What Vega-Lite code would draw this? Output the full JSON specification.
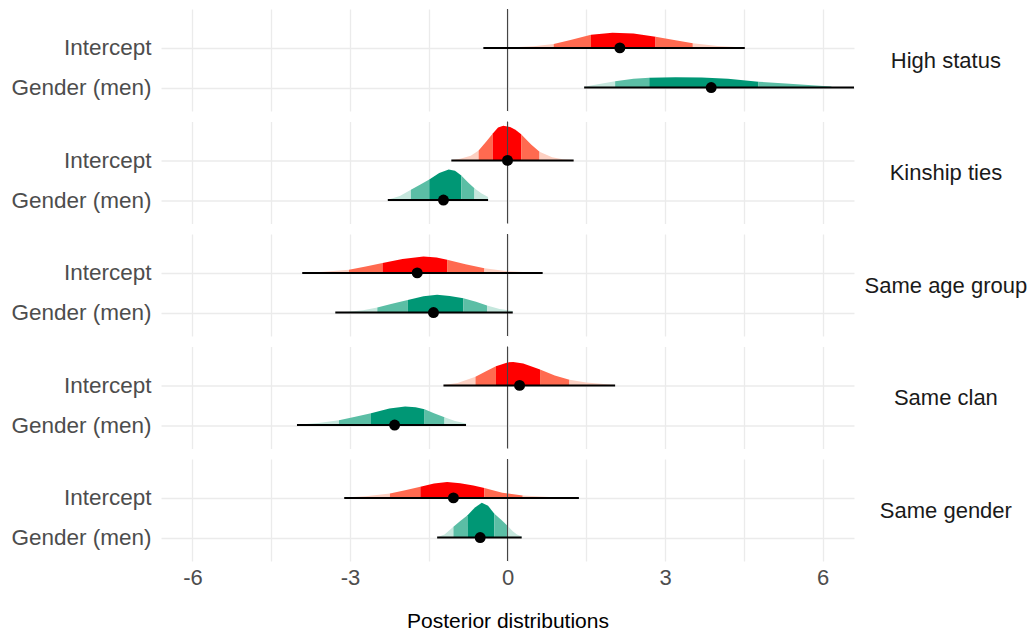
{
  "$schema": "https://vega.github.io/schema/vega-lite/v6.json",
  "background": "white",
  "padding": {"left": 5, "top": 8, "right": 0, "bottom": 0},
  "data": {"values": [
    {"p":"High status","k":"I1","g":1,"b":2,"x":-0.46,"y":2.0},
    {"p":"High status","k":"I1","g":1,"b":2,"x":0.0,"y":2.01},
    {"p":"High status","k":"I1","g":1,"b":2,"x":0.5,"y":2.04},
    {"p":"High status","k":"I1","g":1,"b":2,"x":0.88,"y":2.10},
    {"p":"High status","k":"I2","g":2,"b":2,"x":0.88,"y":2.10},
    {"p":"High status","k":"I2","g":2,"b":2,"x":1.2,"y":2.20},
    {"p":"High status","k":"I2","g":2,"b":2,"x":1.59,"y":2.33},
    {"p":"High status","k":"I3","g":3,"b":2,"x":1.59,"y":2.33},
    {"p":"High status","k":"I3","g":3,"b":2,"x":2.0,"y":2.38},
    {"p":"High status","k":"I3","g":3,"b":2,"x":2.4,"y":2.36},
    {"p":"High status","k":"I3","g":3,"b":2,"x":2.82,"y":2.28},
    {"p":"High status","k":"I2","g":4,"b":2,"x":2.82,"y":2.28},
    {"p":"High status","k":"I2","g":4,"b":2,"x":3.2,"y":2.19},
    {"p":"High status","k":"I2","g":4,"b":2,"x":3.53,"y":2.12},
    {"p":"High status","k":"I1","g":5,"b":2,"x":3.53,"y":2.12},
    {"p":"High status","k":"I1","g":5,"b":2,"x":4.0,"y":2.05},
    {"p":"High status","k":"I1","g":5,"b":2,"x":4.52,"y":2.01},

    {"p":"High status","k":"G1","g":1,"b":1,"x":1.46,"y":1.02},
    {"p":"High status","k":"G1","g":1,"b":1,"x":1.75,"y":1.09},
    {"p":"High status","k":"G1","g":1,"b":1,"x":2.05,"y":1.16},
    {"p":"High status","k":"G2","g":2,"b":1,"x":2.05,"y":1.16},
    {"p":"High status","k":"G2","g":2,"b":1,"x":2.4,"y":1.22},
    {"p":"High status","k":"G2","g":2,"b":1,"x":2.7,"y":1.25},
    {"p":"High status","k":"G3","g":3,"b":1,"x":2.7,"y":1.25},
    {"p":"High status","k":"G3","g":3,"b":1,"x":3.2,"y":1.26},
    {"p":"High status","k":"G3","g":3,"b":1,"x":3.7,"y":1.255},
    {"p":"High status","k":"G3","g":3,"b":1,"x":4.2,"y":1.22},
    {"p":"High status","k":"G3","g":3,"b":1,"x":4.78,"y":1.15},
    {"p":"High status","k":"G2","g":4,"b":1,"x":4.78,"y":1.15},
    {"p":"High status","k":"G2","g":4,"b":1,"x":5.3,"y":1.10},
    {"p":"High status","k":"G2","g":4,"b":1,"x":5.8,"y":1.06},
    {"p":"High status","k":"G2","g":4,"b":1,"x":6.17,"y":1.03},

    {"p":"Kinship ties","k":"I1","g":1,"b":2,"x":-1.07,"y":2.01},
    {"p":"Kinship ties","k":"I1","g":1,"b":2,"x":-0.9,"y":2.04},
    {"p":"Kinship ties","k":"I1","g":1,"b":2,"x":-0.7,"y":2.12},
    {"p":"Kinship ties","k":"I1","g":1,"b":2,"x":-0.55,"y":2.25},
    {"p":"Kinship ties","k":"I2","g":2,"b":2,"x":-0.55,"y":2.25},
    {"p":"Kinship ties","k":"I2","g":2,"b":2,"x":-0.4,"y":2.48},
    {"p":"Kinship ties","k":"I2","g":2,"b":2,"x":-0.28,"y":2.68},
    {"p":"Kinship ties","k":"I3","g":3,"b":2,"x":-0.28,"y":2.68},
    {"p":"Kinship ties","k":"I3","g":3,"b":2,"x":-0.18,"y":2.83},
    {"p":"Kinship ties","k":"I3","g":3,"b":2,"x":-0.08,"y":2.87},
    {"p":"Kinship ties","k":"I3","g":3,"b":2,"x":0.05,"y":2.84},
    {"p":"Kinship ties","k":"I3","g":3,"b":2,"x":0.15,"y":2.77},
    {"p":"Kinship ties","k":"I3","g":3,"b":2,"x":0.26,"y":2.66},
    {"p":"Kinship ties","k":"I2","g":4,"b":2,"x":0.26,"y":2.66},
    {"p":"Kinship ties","k":"I2","g":4,"b":2,"x":0.45,"y":2.40},
    {"p":"Kinship ties","k":"I2","g":4,"b":2,"x":0.61,"y":2.22},
    {"p":"Kinship ties","k":"I1","g":5,"b":2,"x":0.61,"y":2.22},
    {"p":"Kinship ties","k":"I1","g":5,"b":2,"x":0.85,"y":2.08},
    {"p":"Kinship ties","k":"I1","g":5,"b":2,"x":1.05,"y":2.03},
    {"p":"Kinship ties","k":"I1","g":5,"b":2,"x":1.26,"y":2.01},

    {"p":"Kinship ties","k":"G1","g":1,"b":1,"x":-2.28,"y":1.01},
    {"p":"Kinship ties","k":"G1","g":1,"b":1,"x":-2.05,"y":1.10},
    {"p":"Kinship ties","k":"G1","g":1,"b":1,"x":-1.84,"y":1.26},
    {"p":"Kinship ties","k":"G2","g":2,"b":1,"x":-1.84,"y":1.26},
    {"p":"Kinship ties","k":"G2","g":2,"b":1,"x":-1.65,"y":1.40},
    {"p":"Kinship ties","k":"G2","g":2,"b":1,"x":-1.49,"y":1.52},
    {"p":"Kinship ties","k":"G3","g":3,"b":1,"x":-1.49,"y":1.52},
    {"p":"Kinship ties","k":"G3","g":3,"b":1,"x":-1.3,"y":1.68},
    {"p":"Kinship ties","k":"G3","g":3,"b":1,"x":-1.12,"y":1.77},
    {"p":"Kinship ties","k":"G3","g":3,"b":1,"x":-1.0,"y":1.74},
    {"p":"Kinship ties","k":"G3","g":3,"b":1,"x":-0.88,"y":1.62},
    {"p":"Kinship ties","k":"G2","g":4,"b":1,"x":-0.88,"y":1.62},
    {"p":"Kinship ties","k":"G2","g":4,"b":1,"x":-0.75,"y":1.44},
    {"p":"Kinship ties","k":"G2","g":4,"b":1,"x":-0.63,"y":1.30},
    {"p":"Kinship ties","k":"G1","g":5,"b":1,"x":-0.63,"y":1.30},
    {"p":"Kinship ties","k":"G1","g":5,"b":1,"x":-0.5,"y":1.17},
    {"p":"Kinship ties","k":"G1","g":5,"b":1,"x":-0.37,"y":1.08},

    {"p":"Same age group","k":"I1","g":1,"b":2,"x":-3.91,"y":2.0},
    {"p":"Same age group","k":"I1","g":1,"b":2,"x":-3.5,"y":2.03},
    {"p":"Same age group","k":"I1","g":1,"b":2,"x":-3.02,"y":2.08},
    {"p":"Same age group","k":"I2","g":2,"b":2,"x":-3.02,"y":2.08},
    {"p":"Same age group","k":"I2","g":2,"b":2,"x":-2.7,"y":2.16},
    {"p":"Same age group","k":"I2","g":2,"b":2,"x":-2.38,"y":2.25},
    {"p":"Same age group","k":"I3","g":3,"b":2,"x":-2.38,"y":2.25},
    {"p":"Same age group","k":"I3","g":3,"b":2,"x":-2.0,"y":2.35},
    {"p":"Same age group","k":"I3","g":3,"b":2,"x":-1.6,"y":2.41},
    {"p":"Same age group","k":"I3","g":3,"b":2,"x":-1.35,"y":2.39},
    {"p":"Same age group","k":"I3","g":3,"b":2,"x":-1.15,"y":2.33},
    {"p":"Same age group","k":"I2","g":4,"b":2,"x":-1.15,"y":2.33},
    {"p":"Same age group","k":"I2","g":4,"b":2,"x":-0.8,"y":2.22},
    {"p":"Same age group","k":"I2","g":4,"b":2,"x":-0.44,"y":2.12},
    {"p":"Same age group","k":"I1","g":5,"b":2,"x":-0.44,"y":2.12},
    {"p":"Same age group","k":"I1","g":5,"b":2,"x":0.0,"y":2.04},
    {"p":"Same age group","k":"I1","g":5,"b":2,"x":0.67,"y":2.0},

    {"p":"Same age group","k":"G1","g":1,"b":1,"x":-3.28,"y":1.0},
    {"p":"Same age group","k":"G1","g":1,"b":1,"x":-3.03,"y":1.02},
    {"p":"Same age group","k":"G1","g":1,"b":1,"x":-2.75,"y":1.06},
    {"p":"Same age group","k":"G1","g":1,"b":1,"x":-2.48,"y":1.13},
    {"p":"Same age group","k":"G2","g":2,"b":1,"x":-2.48,"y":1.13},
    {"p":"Same age group","k":"G2","g":2,"b":1,"x":-2.2,"y":1.22},
    {"p":"Same age group","k":"G2","g":2,"b":1,"x":-1.9,"y":1.32},
    {"p":"Same age group","k":"G3","g":3,"b":1,"x":-1.9,"y":1.32},
    {"p":"Same age group","k":"G3","g":3,"b":1,"x":-1.6,"y":1.41},
    {"p":"Same age group","k":"G3","g":3,"b":1,"x":-1.34,"y":1.45},
    {"p":"Same age group","k":"G3","g":3,"b":1,"x":-1.1,"y":1.42},
    {"p":"Same age group","k":"G3","g":3,"b":1,"x":-0.84,"y":1.36},
    {"p":"Same age group","k":"G2","g":4,"b":1,"x":-0.84,"y":1.36},
    {"p":"Same age group","k":"G2","g":4,"b":1,"x":-0.6,"y":1.27},
    {"p":"Same age group","k":"G2","g":4,"b":1,"x":-0.39,"y":1.18},
    {"p":"Same age group","k":"G1","g":5,"b":1,"x":-0.39,"y":1.18},
    {"p":"Same age group","k":"G1","g":5,"b":1,"x":-0.15,"y":1.09},
    {"p":"Same age group","k":"G1","g":5,"b":1,"x":0.1,"y":1.04},

    {"p":"Same clan","k":"I1","g":1,"b":2,"x":-1.22,"y":2.01},
    {"p":"Same clan","k":"I1","g":1,"b":2,"x":-0.95,"y":2.06},
    {"p":"Same clan","k":"I1","g":1,"b":2,"x":-0.61,"y":2.22},
    {"p":"Same clan","k":"I2","g":2,"b":2,"x":-0.61,"y":2.22},
    {"p":"Same clan","k":"I2","g":2,"b":2,"x":-0.4,"y":2.36},
    {"p":"Same clan","k":"I2","g":2,"b":2,"x":-0.22,"y":2.48},
    {"p":"Same clan","k":"I3","g":3,"b":2,"x":-0.22,"y":2.48},
    {"p":"Same clan","k":"I3","g":3,"b":2,"x":0.0,"y":2.58},
    {"p":"Same clan","k":"I3","g":3,"b":2,"x":0.11,"y":2.59},
    {"p":"Same clan","k":"I3","g":3,"b":2,"x":0.3,"y":2.55},
    {"p":"Same clan","k":"I3","g":3,"b":2,"x":0.62,"y":2.40},
    {"p":"Same clan","k":"I2","g":4,"b":2,"x":0.62,"y":2.40},
    {"p":"Same clan","k":"I2","g":4,"b":2,"x":0.9,"y":2.25},
    {"p":"Same clan","k":"I2","g":4,"b":2,"x":1.18,"y":2.14},
    {"p":"Same clan","k":"I1","g":5,"b":2,"x":1.18,"y":2.14},
    {"p":"Same clan","k":"I1","g":5,"b":2,"x":1.5,"y":2.07},
    {"p":"Same clan","k":"I1","g":5,"b":2,"x":2.05,"y":2.01},

    {"p":"Same clan","k":"G1","g":1,"b":1,"x":-4.01,"y":1.01},
    {"p":"Same clan","k":"G1","g":1,"b":1,"x":-3.6,"y":1.05},
    {"p":"Same clan","k":"G1","g":1,"b":1,"x":-3.21,"y":1.12},
    {"p":"Same clan","k":"G2","g":2,"b":1,"x":-3.21,"y":1.12},
    {"p":"Same clan","k":"G2","g":2,"b":1,"x":-2.9,"y":1.21},
    {"p":"Same clan","k":"G2","g":2,"b":1,"x":-2.6,"y":1.30},
    {"p":"Same clan","k":"G3","g":3,"b":1,"x":-2.6,"y":1.30},
    {"p":"Same clan","k":"G3","g":3,"b":1,"x":-2.25,"y":1.42},
    {"p":"Same clan","k":"G3","g":3,"b":1,"x":-1.95,"y":1.47},
    {"p":"Same clan","k":"G3","g":3,"b":1,"x":-1.75,"y":1.45},
    {"p":"Same clan","k":"G3","g":3,"b":1,"x":-1.58,"y":1.40},
    {"p":"Same clan","k":"G2","g":4,"b":1,"x":-1.58,"y":1.40},
    {"p":"Same clan","k":"G2","g":4,"b":1,"x":-1.4,"y":1.30},
    {"p":"Same clan","k":"G2","g":4,"b":1,"x":-1.2,"y":1.20},
    {"p":"Same clan","k":"G1","g":5,"b":1,"x":-1.2,"y":1.20},
    {"p":"Same clan","k":"G1","g":5,"b":1,"x":-1.0,"y":1.10},
    {"p":"Same clan","k":"G1","g":5,"b":1,"x":-0.79,"y":1.04},

    {"p":"Same gender","k":"I1","g":1,"b":2,"x":-3.11,"y":2.01},
    {"p":"Same gender","k":"I1","g":1,"b":2,"x":-2.7,"y":2.04},
    {"p":"Same gender","k":"I1","g":1,"b":2,"x":-2.24,"y":2.11},
    {"p":"Same gender","k":"I2","g":2,"b":2,"x":-2.24,"y":2.11},
    {"p":"Same gender","k":"I2","g":2,"b":2,"x":-1.95,"y":2.19},
    {"p":"Same gender","k":"I2","g":2,"b":2,"x":-1.66,"y":2.28},
    {"p":"Same gender","k":"I3","g":3,"b":2,"x":-1.66,"y":2.28},
    {"p":"Same gender","k":"I3","g":3,"b":2,"x":-1.4,"y":2.36},
    {"p":"Same gender","k":"I3","g":3,"b":2,"x":-1.15,"y":2.40},
    {"p":"Same gender","k":"I3","g":3,"b":2,"x":-0.9,"y":2.37},
    {"p":"Same gender","k":"I3","g":3,"b":2,"x":-0.65,"y":2.31},
    {"p":"Same gender","k":"I3","g":3,"b":2,"x":-0.44,"y":2.25},
    {"p":"Same gender","k":"I2","g":4,"b":2,"x":-0.44,"y":2.25},
    {"p":"Same gender","k":"I2","g":4,"b":2,"x":-0.1,"y":2.13},
    {"p":"Same gender","k":"I2","g":4,"b":2,"x":0.29,"y":2.06},
    {"p":"Same gender","k":"I1","g":5,"b":2,"x":0.29,"y":2.06},
    {"p":"Same gender","k":"I1","g":5,"b":2,"x":0.8,"y":2.02},
    {"p":"Same gender","k":"I1","g":5,"b":2,"x":1.36,"y":2.0},

    {"p":"Same gender","k":"G1","g":1,"b":1,"x":-1.34,"y":1.01},
    {"p":"Same gender","k":"G1","g":1,"b":1,"x":-1.2,"y":1.08},
    {"p":"Same gender","k":"G1","g":1,"b":1,"x":-1.03,"y":1.27},
    {"p":"Same gender","k":"G2","g":2,"b":1,"x":-1.03,"y":1.27},
    {"p":"Same gender","k":"G2","g":2,"b":1,"x":-0.9,"y":1.42},
    {"p":"Same gender","k":"G2","g":2,"b":1,"x":-0.76,"y":1.56},
    {"p":"Same gender","k":"G3","g":3,"b":1,"x":-0.76,"y":1.56},
    {"p":"Same gender","k":"G3","g":3,"b":1,"x":-0.62,"y":1.76},
    {"p":"Same gender","k":"G3","g":3,"b":1,"x":-0.49,"y":1.88},
    {"p":"Same gender","k":"G3","g":3,"b":1,"x":-0.37,"y":1.80},
    {"p":"Same gender","k":"G3","g":3,"b":1,"x":-0.25,"y":1.60},
    {"p":"Same gender","k":"G2","g":4,"b":1,"x":-0.25,"y":1.60},
    {"p":"Same gender","k":"G2","g":4,"b":1,"x":-0.12,"y":1.45},
    {"p":"Same gender","k":"G2","g":4,"b":1,"x":-0.01,"y":1.31},
    {"p":"Same gender","k":"G1","g":5,"b":1,"x":-0.01,"y":1.31},
    {"p":"Same gender","k":"G1","g":5,"b":1,"x":0.1,"y":1.16},
    {"p":"Same gender","k":"G1","g":5,"b":1,"x":0.18,"y":1.08},
    {"p":"Same gender","k":"G1","g":5,"b":1,"x":0.27,"y":1.03},

    {"p":"High status","b":2,"lo":-0.46,"hi":4.52,"pt":2.14},
    {"p":"High status","b":1,"lo":1.46,"hi":6.6,"pt":3.88},
    {"p":"Kinship ties","b":2,"lo":-1.07,"hi":1.26,"pt":0.0},
    {"p":"Kinship ties","b":1,"lo":-2.28,"hi":-0.37,"pt":-1.22},
    {"p":"Same age group","b":2,"lo":-3.91,"hi":0.67,"pt":-1.72},
    {"p":"Same age group","b":1,"lo":-3.28,"hi":0.10,"pt":-1.41},
    {"p":"Same clan","b":2,"lo":-1.22,"hi":2.05,"pt":0.23},
    {"p":"Same clan","b":1,"lo":-4.01,"hi":-0.79,"pt":-2.15},
    {"p":"Same gender","b":2,"lo":-3.11,"hi":1.36,"pt":-1.03},
    {"p":"Same gender","b":1,"lo":-1.34,"hi":0.27,"pt":-0.52}
  ]},
  "facet": {
    "row": {
      "field": "p", "type": "nominal", "title": null,
      "header": {"labels": false}
    }
  },
  "spacing": {"row": 8.5},
  "spec": {
    "width": 693,
    "height": 102,
    "layer": [
      {
        "transform": [{"filter": "isValid(datum.k)"}],
        "mark": {"type": "area", "orient": "vertical", "opacity": 1},
        "encoding": {
          "x": {
            "field": "x", "type": "quantitative",
            "scale": {"domain": [-6.6, 6.6], "nice": false, "zero": false},
            "axis": {
              "title": "Posterior distributions",
              "values": [-6, -4.5, -3, -1.5, 0, 1.5, 3, 4.5, 6],
              "labelExpr": "datum.value % 3 == 0 ? ('' + datum.value) : ''",
              "ticks": false, "domain": false, "grid": true,
              "gridColor": "#EBEBEB", "gridWidth": 1.3,
              "labelFontSize": 22, "labelColor": "#4D4D4D", "labelPadding": 5,
              "titleFontSize": 21, "titleFontWeight": "normal", "titleColor": "#000000",
              "titlePadding": 22
            }
          },
          "y": {
            "field": "y", "type": "quantitative", "stack": null,
            "scale": {"domain": [0.41, 2.98], "nice": false, "zero": false},
            "axis": {
              "title": null,
              "values": [1, 2],
              "labelExpr": "datum.value == 2 ? 'Intercept' : 'Gender (men)'",
              "ticks": false, "domain": false, "grid": true,
              "gridColor": "#EBEBEB", "gridWidth": 1.3,
              "labelFontSize": 22.5, "labelColor": "#4D4D4D", "labelPadding": 10,
              "minExtent": 156, "maxExtent": 156
            }
          },
          "y2": {"field": "b"},
          "color": {
            "field": "k", "type": "nominal", "legend": null,
            "scale": {
              "domain": ["I1", "I2", "I3", "G1", "G2", "G3"],
              "range": ["#FDD0C2", "#FF6A50", "#FF0000", "#C5E7DD", "#5BBEA5", "#009775"]
            }
          },
          "detail": {"field": "g", "type": "nominal"}
        }
      },
      {
        "transform": [{"filter": "isValid(datum.lo) && datum.b == 2"}],
        "mark": {"type": "rule", "color": "#444444", "strokeWidth": 1.1},
        "encoding": {"x": {"datum": 0}}
      },
      {
        "transform": [{"filter": "isValid(datum.lo)"}],
        "mark": {"type": "rule", "color": "#000000", "strokeWidth": 2},
        "encoding": {
          "x": {"field": "lo", "type": "quantitative"},
          "x2": {"field": "hi"},
          "y": {"field": "b", "type": "quantitative"}
        }
      },
      {
        "transform": [{"filter": "isValid(datum.lo)"}],
        "mark": {"type": "circle", "color": "#000000", "opacity": 1, "size": 120},
        "encoding": {
          "x": {"field": "pt", "type": "quantitative"},
          "y": {"field": "b", "type": "quantitative"}
        }
      },
      {
        "transform": [{"filter": "isValid(datum.lo) && datum.b == 2"}],
        "mark": {
          "type": "text", "align": "center", "baseline": "middle",
          "fontSize": 22, "color": "#1A1A1A", "font": "Liberation Sans", "clip": false
        },
        "encoding": {
          "x": {"datum": 8.35},
          "y": {"datum": 1.67},
          "text": {"field": "p"}
        }
      }
    ]
  },
  "config": {
    "view": {"stroke": null},
    "font": "Liberation Sans"
  }
}
